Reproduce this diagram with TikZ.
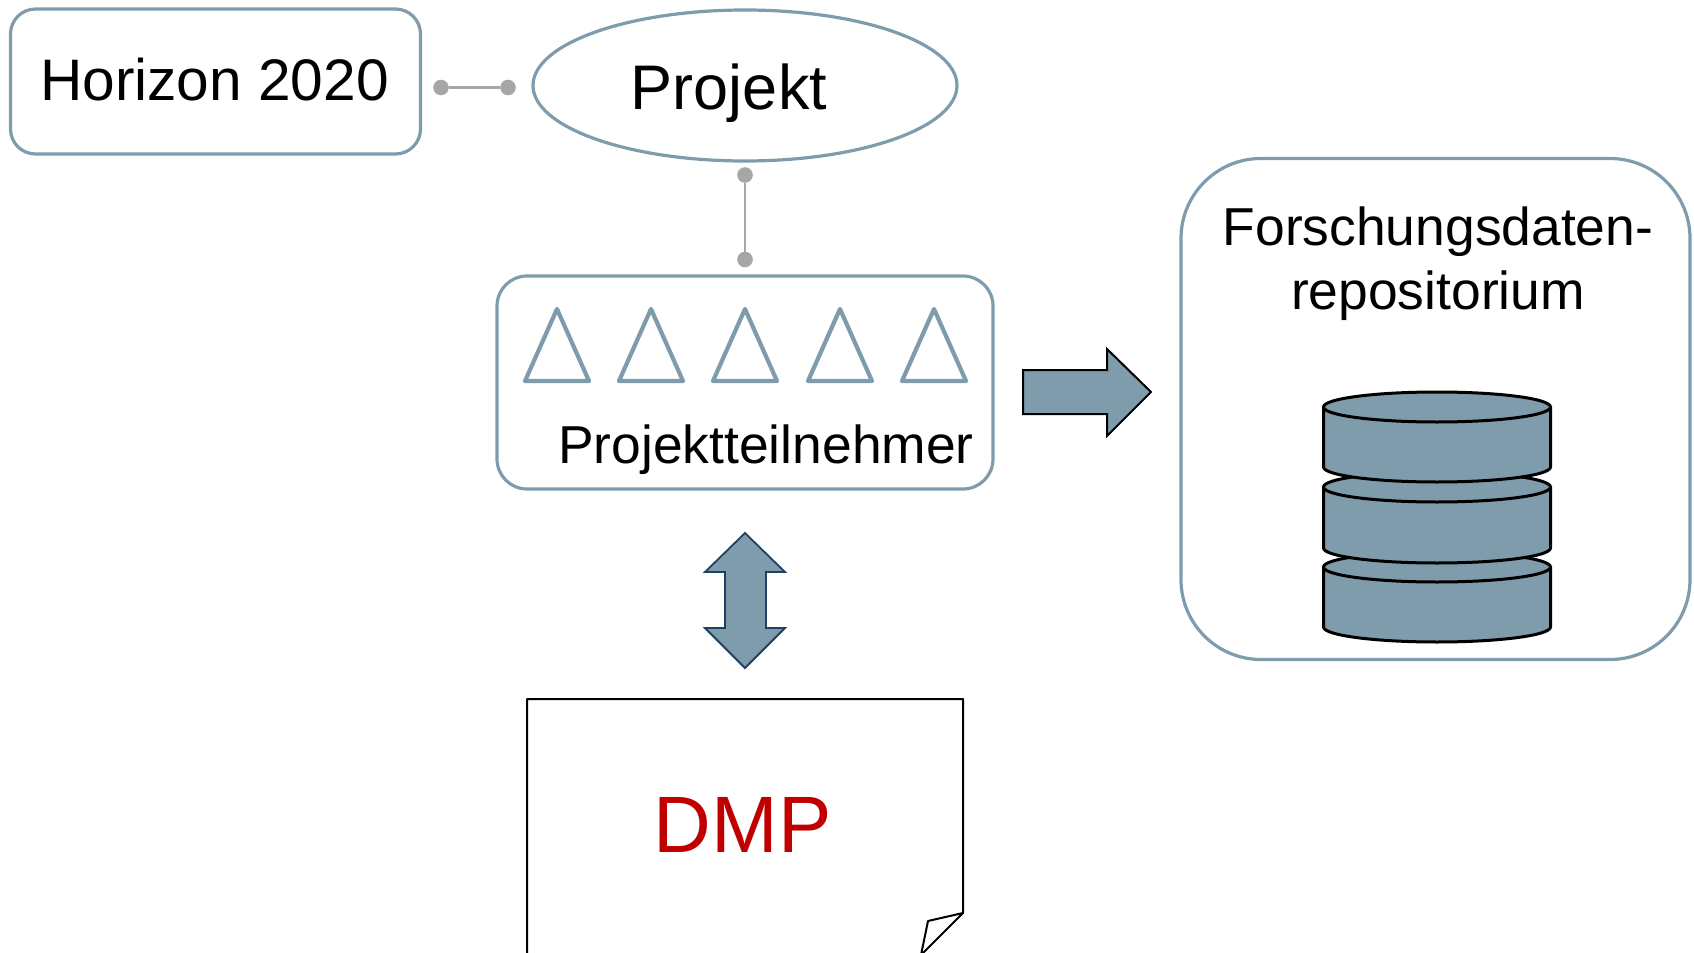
\documentclass[tikz,border=0pt]{standalone}
\usepackage{fontspec}
\setmainfont{Liberation Sans}
\usetikzlibrary{shapes.geometric}
\definecolor{steel}{HTML}{7F9CAD}
\definecolor{steeldark}{HTML}{1F4263}
\definecolor{dotgray}{HTML}{A6A6A6}
\definecolor{dmpred}{HTML}{C00000}
\tikzset{
  x=0.5pt,y=-0.5pt,
  boxstyle/.style={draw=steel,line width=1.6pt,fill=white,rounded corners=#1,inner sep=0pt,outer sep=0pt},
  ovalstyle/.style={draw=steel,line width=1.6pt,fill=white,ellipse,inner sep=0pt,outer sep=0pt},
  dotstyle/.style={circle,fill=dotgray,inner sep=0pt,outer sep=0pt,minimum size=7.8pt},
  linkstyle/.style={draw=dotgray,line width=1.3pt},
  tristyle/.style={draw=steel,line width=2.1pt,line join=round,fill=white},
  arrowstyle/.style={draw=steeldark,line width=0.9pt,fill=steel,line join=miter},
  cylstyle/.style={draw=black,line width=1.5pt,fill=steel,line join=round},
  labelstyle/.style={anchor=base,inner sep=0pt,outer sep=0pt,text=black,align=center},
}
\begin{document}
\begin{tikzpicture}
\useasboundingbox (0,0) rectangle (1694,953);
\clip (0,0) rectangle (1694,953);
% top boxes
\node[boxstyle=12.5pt,minimum width=205pt,minimum height=72.5pt] (horizon) at (215.5,81.5) {};
\node[ovalstyle,minimum width=212pt,minimum height=75.5pt] (projekt) at (745,85.5) {};
\node[boxstyle=15pt,minimum width=248pt,minimum height=106.5pt] (team) at (745,382.5) {};
\node[boxstyle=40pt,minimum width=254.5pt,minimum height=250.5pt] (repo) at (1435.5,409) {};
% connectors
\node[dotstyle] (d1) at (441,87.5) {};
\node[dotstyle] (d2) at (508,87.5) {};
\node[dotstyle] (d3) at (745,175) {};
\node[dotstyle] (d4) at (745,259.5) {};
\draw[linkstyle] (d1) -- (d2);
\draw[linkstyle] (d3) -- (d4);
% triangles
\foreach \cx in {557,651,745,840,934}
  \draw[tristyle] (\cx,309) -- (\cx+32,381) -- (\cx-32,381) -- cycle;
% block arrows
\draw[cylstyle,line join=miter,line width=1pt] (1023,370) -- (1107,370) -- (1107,349) -- (1151,392) -- (1107,436) -- (1107,414) -- (1023,414) -- cycle;
\draw[arrowstyle] (745,533) -- (785,572) -- (766,572) -- (766,628) -- (785,628) -- (745,668) -- (705,628) -- (725,628) -- (725,572) -- (705,572) -- cycle;
% database
\foreach \t/\b in {567/627,487/548,407/467}{
  \draw[cylstyle] (1323.5,\t) -- (1323.5,\b) arc[start angle=180,end angle=0,x radius=113.5,y radius=15] -- (1550.5,\t) -- cycle;
  \draw[cylstyle] (1437,\t) ellipse[x radius=113.5,y radius=15];
}
% document
\draw[black,line width=1pt,line join=round] (527,960) -- (527,699) -- (963,699) -- (963,913) -- (921,955);
\draw[black,line width=1pt,line join=round] (963,913) -- (928,921) -- (921,955);
% labels
\node[labelstyle,font=\fontsize{29.3}{32}\selectfont] (t1) at (214.5,100) {Horizon 2020};
\node[labelstyle,font=\fontsize{31.5}{34}\selectfont] (t2) at (729,109) {Projekt};
\node[labelstyle,font=\fontsize{26.7}{30}\selectfont] (t3) at (766,463) {Projektteilnehmer};
\node[labelstyle,font=\fontsize{26.7}{30}\selectfont] (t4) at (1438,245) {Forschungsdaten-};
\node[labelstyle,font=\fontsize{26.7}{30}\selectfont] (t5) at (1438,309) {repositorium};
\node[labelstyle,font=\fontsize{40}{44}\selectfont,text=dmpred] (t6) at (742.5,852) {DMP};
\end{tikzpicture}
\end{document}
